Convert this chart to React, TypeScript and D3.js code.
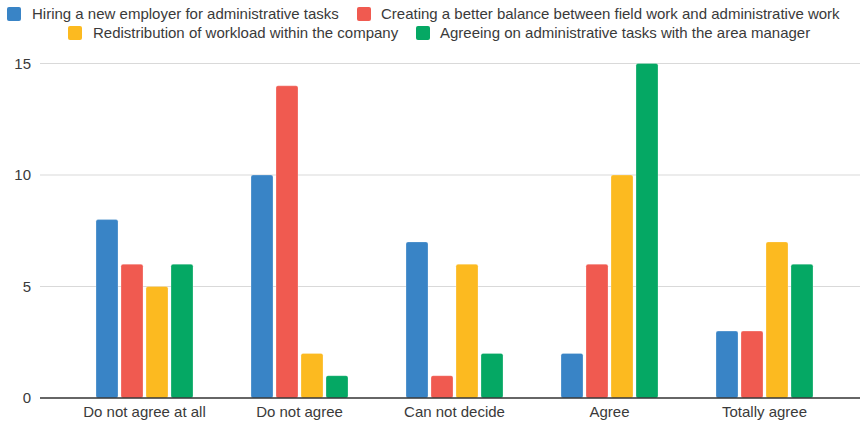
import React from "react";
import * as d3 from "d3";

const categories = ["Do not agree at all", "Do not agree", "Can not decide", "Agree", "Totally agree"];
const seriesNames = [
  "Hiring a new employer for administrative tasks",
  "Creating a better balance between field work and administrative work",
  "Redistribution of workload within the company",
  "Agreeing on administrative tasks with the area manager",
];
const hiring = [8, 10, 7, 2, 3];
const balance = [6, 14, 1, 6, 3];
const redistribution = [5, 2, 6, 10, 7];
const agreeing = [6, 1, 2, 15, 6];
const yTicks = [0, 5, 10, 15];
const colors = ["#3984C6", "#F05A50", "#FCBA20", "#05A864"];

export default function App() {
  const W = 863, H = 426;
  const series = [hiring, balance, redistribution, agreeing];
  const x = d3.scaleBand<string>().domain(categories).range([67, 842]).paddingInner(0).paddingOuter(0);
  const xs = d3.scaleBand<number>().domain([0, 1, 2, 3]).range([-48.5, 48.5]).paddingInner(0.12).paddingOuter(0);
  const y = d3.scaleLinear().domain([0, 15]).range([398, 63.5]);
  const font = "Arial, 'Liberation Sans', sans-serif";
  const fs = 15;
  const legend = [
    { i: 0, sx: 7, tx: 32, y: 14 },
    { i: 1, sx: 357, tx: 381, y: 14 },
    { i: 2, sx: 68, tx: 93, y: 33 },
    { i: 3, sx: 416, tx: 440, y: 33 },
  ];
  return (
    <svg width={W} height={H} style={{ position: "absolute", left: 0, top: 0, fontFamily: font }}>
      <rect width={W} height={H} fill="#fff" />
      {legend.map((l) => (
        <g key={l.i}>
          <rect x={l.sx} y={l.y - 7} width={14} height={14} rx={2} fill={colors[l.i]} />
          <text x={l.tx} y={l.y} dy="0.35em" fontSize={fs} fill="#3a3a3a">{seriesNames[l.i]}</text>
        </g>
      ))}
      {yTicks.map((t) => (
        <g key={t}>
          {t !== 0 && <line x1={40} x2={860} y1={y(t)} y2={y(t)} stroke="#d9d9d9" strokeWidth={1} />}
          <text x={31} y={y(t)} dy="0.35em" textAnchor="end" fontSize={fs} fill="#3a3a3a">{t}</text>
        </g>
      ))}
      {categories.map((c, ci) => (
        <g key={c}>
          {series.map((s, si) => {
            const bx = (x(c) as number) + x.bandwidth() / 2 + (xs(si) as number);
            const by = y(s[ci]);
            return (
              <rect key={si} x={bx} y={by} width={xs.bandwidth()} height={y(0) - by} rx={2}
                fill={colors[si]} stroke="#fff" strokeOpacity={0.5} strokeWidth={0.5} />
            );
          })}
          <text x={(x(c) as number) + x.bandwidth() / 2} y={412} dy="0.35em" textAnchor="middle" fontSize={fs} fill="#3a3a3a">{c}</text>
        </g>
      ))}
      <line x1={40} x2={860} y1={y(0)} y2={y(0)} stroke="#333" strokeWidth={1.5} />
    </svg>
  );
}
